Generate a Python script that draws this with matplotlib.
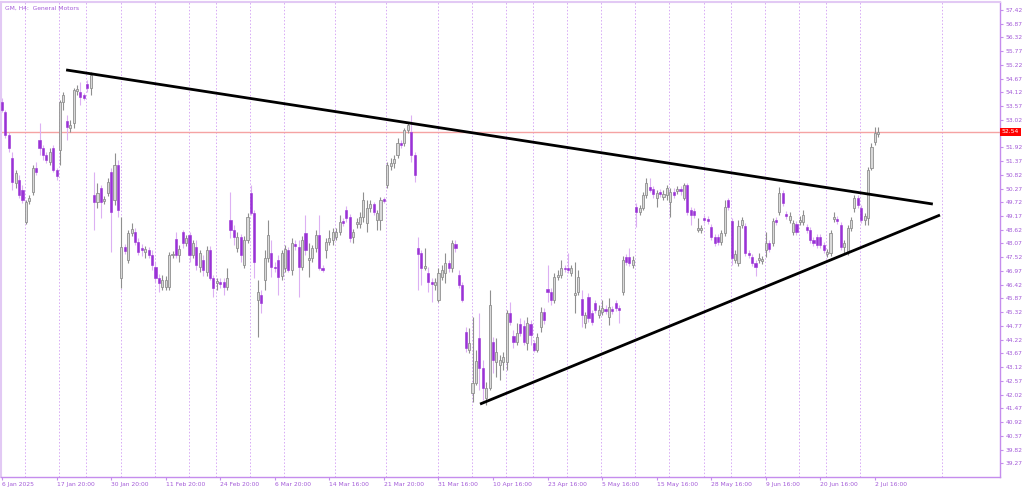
import matplotlib
matplotlib.use("Agg")
import matplotlib.pyplot as plt
import matplotlib.transforms as mtransforms
import numpy as np

# GM H4 candles (bar index 0 = first visible bar)
opens = [
    53.74, 53.34, 52.42, 51.50, 50.50, 50.62, 50.22, 48.94, 49.78, 50.14,
    51.10, 52.22, 51.90, 51.62, 51.34, 51.90, 51.02, 51.82, 53.74, 52.98,
    52.70, 52.90, 54.18, 54.14, 54.02, 54.46, 54.30, 50.02, 49.74, 50.30,
    49.78, 50.10, 50.94, 49.82, 51.22, 46.70, 47.94, 47.42, 48.50, 48.54,
    48.14, 47.90, 47.74, 47.82, 47.62, 47.14, 46.70, 46.34, 46.34, 46.34,
    47.62, 48.26, 47.62, 48.54, 48.10, 48.42, 47.62, 47.94, 47.14, 47.42,
    46.94, 47.82, 46.70, 46.50, 46.54, 46.54, 46.34, 49.02, 48.62, 47.90,
    48.34, 47.22, 48.22, 50.10, 49.30, 45.82, 46.02, 46.62, 47.50, 47.70,
    47.14, 47.42, 46.78, 47.10, 47.82, 47.02, 48.06, 47.94, 47.14, 48.50,
    47.42, 47.50, 47.90, 48.42, 47.10, 47.82, 48.14, 48.22, 48.34, 48.54,
    48.98, 49.42, 49.14, 48.34, 48.86, 48.86, 49.14, 48.90, 49.50, 49.66,
    49.02, 49.02, 49.86, 50.42, 51.18, 51.30, 51.62, 52.10, 52.10, 52.62,
    52.54, 51.62, 47.90, 47.70, 47.10, 46.90, 46.54, 46.42, 45.82, 46.74,
    46.90, 47.30, 47.10, 48.06, 46.82, 46.42, 44.54, 43.82, 42.10, 42.50,
    44.30, 43.10, 41.90, 42.30, 44.14, 43.34, 43.22, 43.34, 43.34, 45.30,
    44.38, 44.14, 44.86, 44.78, 44.10, 44.86, 44.10, 43.82, 44.74, 45.34,
    46.26, 46.14, 45.82, 46.74, 46.82, 47.10, 47.10, 46.90, 46.02, 46.14,
    45.86, 44.90, 45.94, 45.30, 45.70, 45.22, 45.34, 45.46, 45.14, 45.46,
    45.70, 45.50, 46.14, 47.54, 47.54, 47.22, 49.54, 49.34, 49.50, 50.02,
    50.34, 50.26, 49.90, 50.14, 49.94, 50.02, 49.74, 50.14, 50.18, 50.26,
    49.90, 50.42, 49.42, 49.38, 48.62, 48.62, 49.10, 49.06, 48.74, 48.34,
    48.34, 48.14, 48.50, 49.82, 48.98, 47.42, 47.30, 48.82, 48.78, 47.70,
    47.54, 47.30, 47.42, 47.38, 47.82, 48.10, 48.10, 49.02, 49.34, 50.10,
    49.26, 49.02, 48.54, 48.86, 48.94, 48.94, 48.74, 48.62, 48.22, 48.34,
    48.34, 48.02, 47.66, 47.70, 49.06, 49.06, 48.82, 47.94, 47.74, 48.70,
    49.50, 49.90, 49.50, 49.02, 49.10, 51.10, 52.14, 52.46,
]
highs = [
    53.90, 53.42, 52.54, 51.74, 51.02, 50.82, 50.42, 49.82, 50.02, 51.22,
    51.34, 52.90, 52.02, 51.74, 51.90, 52.02, 51.10, 53.82, 54.14, 53.22,
    53.02, 54.30, 54.42, 54.54, 54.10, 54.62, 54.94, 50.94, 50.50, 50.42,
    49.98, 50.70, 51.10, 51.70, 51.42, 49.14, 48.06, 48.62, 48.90, 48.70,
    48.30, 48.06, 47.98, 47.94, 47.82, 47.34, 46.86, 46.82, 46.78, 47.74,
    47.78, 48.54, 48.02, 48.62, 48.42, 48.54, 48.22, 48.22, 47.82, 47.62,
    47.98, 47.98, 46.82, 46.70, 46.70, 46.70, 47.10, 50.14, 48.82, 48.54,
    48.46, 48.38, 49.30, 50.42, 49.42, 46.62, 46.22, 47.82, 49.02, 48.22,
    47.34, 47.62, 47.82, 48.02, 47.94, 48.30, 48.22, 48.22, 48.38, 49.22,
    48.10, 48.02, 48.62, 49.22, 47.22, 48.30, 48.62, 48.70, 48.70, 49.22,
    49.10, 49.58, 49.26, 48.66, 49.10, 49.34, 50.14, 49.82, 49.82, 49.74,
    49.42, 49.94, 49.94, 51.34, 51.50, 51.62, 52.30, 52.22, 52.70, 52.94,
    53.22, 51.74, 48.34, 47.82, 47.90, 47.14, 46.70, 46.70, 47.10, 47.22,
    47.70, 47.42, 48.22, 48.22, 47.02, 46.54, 44.74, 44.70, 45.14, 43.82,
    45.30, 43.42, 42.54, 46.22, 44.34, 44.30, 43.62, 43.74, 45.42, 45.74,
    44.62, 44.90, 45.10, 45.02, 45.14, 45.02, 44.22, 44.50, 45.54, 45.50,
    47.22, 46.30, 46.90, 47.02, 47.42, 47.22, 47.70, 47.22, 47.34, 47.02,
    46.22, 45.34, 46.10, 45.42, 45.82, 45.62, 45.82, 45.62, 45.90, 45.58,
    45.82, 45.62, 47.58, 47.66, 47.90, 47.58, 49.70, 49.62, 50.14, 50.70,
    50.70, 50.38, 50.22, 50.26, 50.22, 50.42, 50.30, 50.30, 50.38, 50.38,
    50.50, 50.50, 49.54, 49.50, 49.10, 48.82, 49.22, 49.18, 48.86, 48.46,
    48.46, 48.62, 49.82, 49.90, 49.10, 47.82, 49.02, 49.14, 48.90, 47.82,
    47.66, 47.42, 47.70, 47.58, 48.54, 48.22, 49.10, 49.14, 50.34, 50.22,
    49.38, 49.34, 49.02, 48.98, 49.18, 49.42, 48.86, 48.74, 48.34, 48.46,
    48.46, 48.14, 47.86, 48.62, 49.34, 49.18, 48.94, 48.22, 48.82, 49.14,
    50.02, 50.02, 49.62, 49.30, 51.14, 52.10, 52.74, 52.74,
]
lows = [
    53.34, 52.30, 51.74, 50.22, 50.30, 49.90, 49.70, 48.86, 49.66, 50.02,
    50.82, 51.62, 51.42, 51.30, 51.22, 50.94, 50.62, 51.22, 53.42, 52.22,
    52.54, 52.70, 54.02, 53.62, 53.82, 54.14, 54.02, 48.62, 49.50, 49.10,
    49.66, 49.98, 47.74, 49.62, 49.14, 46.30, 47.66, 47.30, 48.38, 48.02,
    47.62, 47.58, 47.50, 47.50, 47.02, 46.54, 46.14, 46.22, 46.22, 46.22,
    47.50, 47.50, 47.34, 47.90, 47.98, 47.34, 47.50, 47.02, 46.94, 46.78,
    46.78, 46.62, 45.94, 46.22, 46.30, 46.02, 46.22, 48.30, 48.02, 47.74,
    47.34, 47.10, 48.10, 49.22, 46.70, 44.34, 45.30, 46.22, 47.34, 46.74,
    46.94, 46.02, 46.62, 46.94, 46.94, 46.82, 47.82, 45.94, 47.02, 47.62,
    46.74, 47.34, 47.74, 47.02, 46.94, 47.50, 48.02, 48.02, 48.22, 48.42,
    48.78, 48.94, 48.14, 48.10, 48.70, 48.70, 48.94, 48.54, 49.34, 49.22,
    48.62, 48.62, 49.70, 50.30, 51.02, 51.10, 51.50, 51.90, 51.98, 52.50,
    51.34, 50.54, 46.22, 46.42, 47.02, 46.14, 45.74, 46.22, 45.74, 46.62,
    46.50, 46.94, 46.94, 47.74, 46.30, 45.74, 43.74, 43.70, 41.74, 42.42,
    42.22, 41.82, 41.62, 42.22, 42.90, 42.74, 42.62, 43.02, 43.02, 44.82,
    43.90, 44.02, 44.38, 44.02, 43.82, 44.02, 43.74, 43.74, 44.54, 44.86,
    45.74, 45.62, 45.70, 46.62, 46.70, 46.94, 46.90, 46.78, 45.30, 46.02,
    44.74, 44.70, 44.94, 44.82, 45.30, 45.10, 45.22, 45.26, 44.82, 45.26,
    45.38, 44.90, 46.02, 47.22, 47.18, 47.10, 48.74, 49.22, 49.42, 49.90,
    50.14, 49.90, 49.54, 49.94, 49.82, 49.82, 49.14, 49.90, 50.06, 50.02,
    49.82, 49.22, 48.82, 49.10, 48.54, 48.50, 48.90, 48.86, 48.22, 47.98,
    48.02, 48.02, 48.38, 49.42, 47.22, 47.30, 47.18, 48.70, 47.58, 47.50,
    47.18, 46.78, 47.30, 47.26, 47.54, 47.74, 47.98, 48.82, 49.22, 49.58,
    49.06, 48.90, 48.42, 48.42, 48.82, 48.82, 48.50, 48.10, 47.98, 47.90,
    47.90, 47.70, 47.54, 47.58, 48.94, 48.86, 47.82, 47.70, 47.62, 48.58,
    49.34, 49.50, 48.90, 48.82, 48.82, 51.02, 52.02, 52.34,
]
closes = [
    53.42, 52.42, 51.90, 50.54, 50.90, 50.02, 49.82, 49.74, 49.90, 51.10,
    50.94, 51.90, 51.62, 51.42, 51.74, 51.02, 50.78, 53.74, 54.02, 52.74,
    52.82, 54.22, 54.26, 53.94, 53.90, 54.30, 54.82, 49.74, 50.10, 49.74,
    49.86, 50.54, 49.34, 51.22, 49.42, 47.94, 47.78, 48.50, 48.66, 48.14,
    47.74, 47.82, 47.86, 47.62, 47.22, 46.70, 46.50, 46.62, 46.62, 47.62,
    47.66, 47.62, 47.86, 48.10, 48.30, 47.62, 48.10, 47.22, 47.70, 47.02,
    47.82, 46.70, 46.30, 46.58, 46.46, 46.34, 46.70, 48.62, 48.34, 48.34,
    47.62, 48.22, 49.14, 49.30, 47.34, 46.14, 45.70, 47.50, 48.42, 47.14,
    47.10, 46.74, 47.70, 47.86, 47.02, 48.10, 47.98, 47.14, 48.22, 47.82,
    47.50, 47.90, 48.42, 47.10, 47.02, 48.14, 48.30, 48.54, 48.54, 48.94,
    48.90, 49.10, 48.30, 48.54, 48.94, 49.14, 49.82, 49.50, 49.66, 49.34,
    49.30, 49.82, 49.78, 51.22, 51.30, 51.46, 52.10, 52.02, 52.62, 52.82,
    51.62, 50.82, 47.66, 47.10, 47.18, 46.54, 46.46, 46.54, 46.90, 47.02,
    47.30, 47.10, 48.10, 47.90, 46.42, 45.82, 43.90, 44.10, 42.50, 43.38,
    43.10, 42.30, 42.30, 45.62, 43.42, 43.74, 43.42, 43.54, 45.30, 44.94,
    44.14, 44.50, 44.50, 44.14, 44.90, 44.42, 43.82, 44.34, 45.34, 45.02,
    46.14, 45.82, 46.74, 46.82, 47.10, 47.06, 47.02, 47.10, 46.10, 46.74,
    45.22, 45.22, 45.10, 44.94, 45.42, 45.42, 45.50, 45.38, 45.54, 45.38,
    45.50, 45.42, 47.42, 47.34, 47.30, 47.42, 49.34, 49.50, 50.02, 50.50,
    50.22, 50.06, 50.10, 50.06, 50.06, 50.30, 50.14, 50.02, 50.26, 50.18,
    50.42, 49.34, 49.22, 49.22, 48.70, 48.70, 49.02, 48.98, 48.34, 48.10,
    48.14, 48.50, 49.54, 49.54, 47.50, 47.66, 48.78, 49.02, 47.70, 47.62,
    47.30, 47.14, 47.50, 47.46, 48.10, 47.86, 48.98, 48.94, 50.10, 49.70,
    49.18, 49.18, 48.90, 48.54, 49.02, 49.22, 48.62, 48.22, 48.10, 48.02,
    48.02, 47.82, 47.74, 48.50, 49.14, 48.98, 47.94, 48.10, 48.70, 49.02,
    49.90, 49.62, 49.02, 49.18, 51.02, 51.94, 52.50, 52.54,
]

# time axis labels (every 16 bars) and weekly separators (first bar of week)
date_labels = ["6 Jan 2025", "17 Jan 20:00", "30 Jan 20:00", "11 Feb 20:00",
               "24 Feb 20:00", "6 Mar 20:00", "14 Mar 16:00", "21 Mar 20:00",
               "31 Mar 16:00", "10 Apr 16:00", "23 Apr 16:00", "5 May 16:00",
               "15 May 16:00", "28 May 16:00", "9 Jun 16:00", "20 Jun 16:00",
               "2 Jul 16:00"]
label_step = 16
week_starts = [7, 17, 25, 35, 45, 55, 63, 73, 83, 98, 113, 128, 138, 148,
               156, 166, 176, 186, 196, 206, 214, 224, 234, 242, 252, 276]

# trendlines (bar index, price)
upper_line = [(18.8, 55.02), (273.0, 49.65)]
lower_line = [(140.2, 41.64), (275.1, 49.21)]
last_price = 52.54

# scale labels; the one under the red price box is hidden
price_ticks = [round(39.27 + 0.55 * k, 2) for k in range(34)]
price_ticks = [p for p in price_ticks if abs(p - last_price) > 0.25]

PURPLE_TXT = "#a35ad8"
BEAR = "#9a32d6"
BEAR_WICK = "#dcb0f3"
BULL_FACE = "#d9d9d9"
BULL_EDGE = "#8f8f8f"
FS = 4.3

fig = plt.figure(figsize=(10.24, 4.88), dpi=100)
ax = fig.add_axes([1 / 1024, 11 / 488, 999 / 1024, 475 / 488])

o = np.array(opens)
h = np.array(highs)
l = np.array(lows)
c = np.array(closes)
x = np.arange(len(o))
up = c >= o

# weekly separators
for ws in week_starts:
    ax.axvline(ws - 0.25, color="#d7a9f5", lw=0.7, ls=(0, (1.5, 2)), zorder=0)

# current price line
ax.axhline(last_price, color="#f5a3a3", lw=1.0, zorder=1)

# wicks
ax.vlines(x[up], l[up], h[up], colors=BULL_EDGE, lw=0.8, zorder=2)
ax.vlines(x[~up], l[~up], h[~up], colors=BEAR_WICK, lw=0.8, zorder=2)

# bodies
body_low = np.minimum(o, c)
body_h = np.maximum(np.abs(c - o), 0.04)
ax.bar(x[up], body_h[up], bottom=body_low[up], width=0.62,
       color=BULL_FACE, edgecolor=BULL_EDGE, linewidth=0.6, zorder=3)
ax.bar(x[~up], body_h[~up], bottom=body_low[~up], width=0.62,
       color=BEAR, edgecolor=BEAR, linewidth=0.4, zorder=3)

# triangle trendlines
for line in (upper_line, lower_line):
    xs, ys = zip(*line)
    ax.plot(xs, ys, color="black", lw=2.0, zorder=4, solid_capstyle="butt")

ax.set_xlim(-0.3, 292.7)
ax.set_ylim(38.72, 57.74)

ax.set_xticks([i * label_step for i in range(len(date_labels))])
ax.set_xticklabels(date_labels, ha="left")
ax.set_yticks(price_ticks)
ax.set_yticklabels([f"{p:.2f}" for p in price_ticks])
ax.yaxis.tick_right()
ax.tick_params(axis="both", colors="#c58ded", labelcolor=PURPLE_TXT,
               labelsize=FS, length=2.5, width=0.8, direction="out")
ax.tick_params(axis="y", pad=1.5)
ax.tick_params(axis="x", pad=1.0)

for side in ("left", "top"):
    ax.spines[side].set_color("#e2c9f4")
    ax.spines[side].set_linewidth(1.5)
for side in ("right", "bottom"):
    ax.spines[side].set_color("#c58ded")
    ax.spines[side].set_linewidth(1.0)

# price label on the axis
trans = mtransforms.blended_transform_factory(ax.transAxes, ax.transData)
ax.text(1.0015, last_price, f"{last_price:.2f}", transform=trans, ha="left",
        va="center", fontsize=FS, color="white", zorder=6, clip_on=False,
        bbox=dict(facecolor="#ff0000", edgecolor="none", pad=1.3))

ax.text(0.004, 0.992, "GM, H4:  General Motors", transform=ax.transAxes,
        ha="left", va="top", fontsize=FS, color=PURPLE_TXT)

fig.savefig("out.png", dpi=100)
